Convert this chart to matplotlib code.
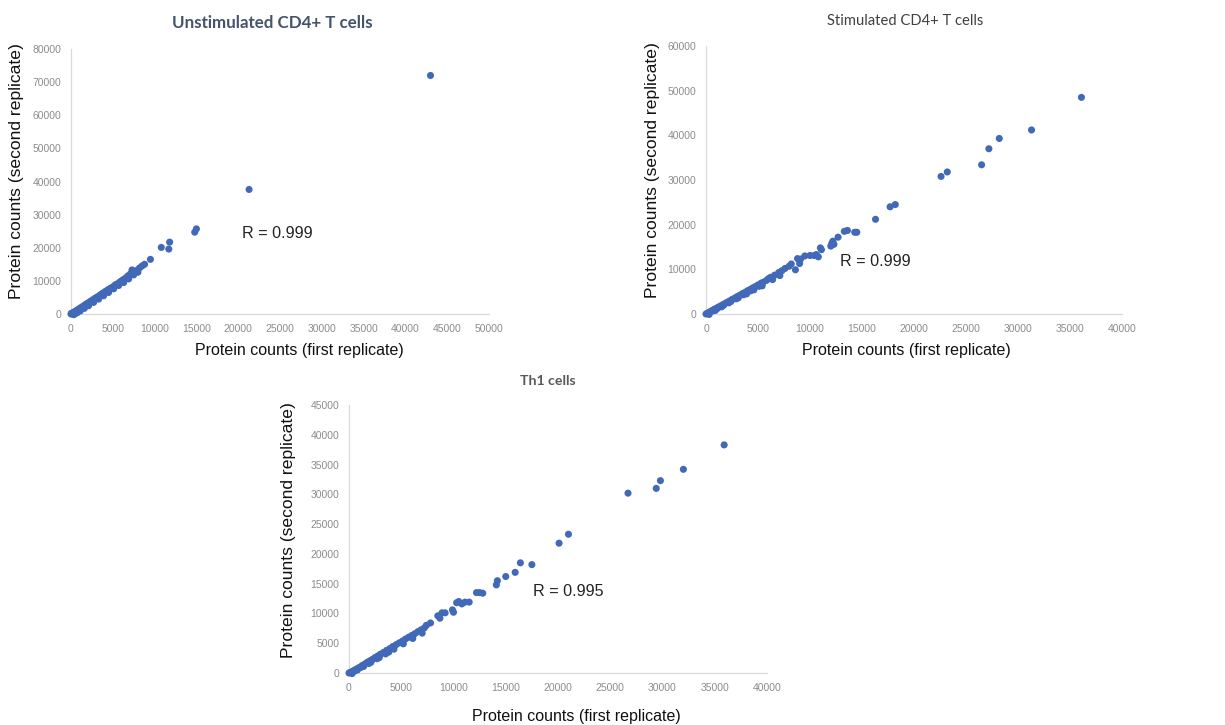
import matplotlib
matplotlib.use("Agg")
import matplotlib.pyplot as plt

plt.rcParams['font.family'] = ['Liberation Sans', 'DejaVu Sans']

# --- Unstimulated CD4+ T cells -------------------------------------------
unstim_x = [0, 50, 150, 300, 100, 250, 400, 600, 800, 1000, 1250, 1500, 1750,
            2000, 2300, 2600, 2900, 3200, 3500, 3800, 4100, 4400, 4700, 5000,
            5300, 5600, 5900, 6200, 6500, 6800, 7100, 7300, 7600, 7900, 8200,
            8500, 8800, 9500, 10800, 11700, 11800, 14800, 15000, 21300, 43000,
            350, 700, 1100, 1600, 2100, 2700, 3300, 3900, 4500, 5100, 5700,
            6300, 6900, 7500, 8000]
unstim_y = [0, 200, 50, 300, 150, 400, 650, 950, 1300, 1650, 2050, 2450, 2900,
            3300, 3800, 4300, 4800, 5250, 5800, 6300, 6800, 7300, 7750, 8200,
            8800, 9200, 9800, 10300, 10800, 11500, 12100, 13300, 12800, 13200,
            13900, 14500, 15000, 16500, 20100, 19600, 21700, 24700, 25700,
            37600, 72000,
            -200, 300, 900, 1700, 2500, 3500, 4500, 5500, 6500, 7600, 8600,
            9500, 10600, 11800, 12600]

# --- Stimulated CD4+ T cells ---------------------------------------------
stim_x = [0, 80, 200, 350, 500, 650, 800, 1000, 1200, 1400, 1600, 1800, 2000,
          2250, 2500, 2750, 3000, 3250, 3500, 3750, 4000, 4250, 4500, 4750,
          5000, 5300, 5500, 5800, 6000, 6200, 6600, 7000, 7300, 7600, 8000,
          8200, 8600, 8800, 9000, 9100, 9500, 10000, 10400, 10600, 10800,
          11000, 11100, 12000, 12100, 12200, 12300, 12700, 13300, 13600, 14300,
          14500, 16300, 17700, 18200, 22600, 23200, 26500, 27200, 28200, 31300,
          36100,
          600, 1100, 1700, 2400, 3100, 3900, 4600, 5400, 6400, 7100,
          300, 900, 1500, 2200, 2900, 3600, 4300, 5100]
stim_y = [0, 100, 250, 450, 650, 850, 1050, 1300, 1550, 1800, 2050, 2300, 2600,
          2900, 3250, 3550, 3900, 4200, 4550, 4850, 5200, 5500, 5850, 6150,
          6500, 6900, 7100, 7500, 7900, 8200, 8700, 9300, 9700, 10200, 10700,
          11200, 9900, 12400, 11300, 12300, 13000, 13100, 13100, 13300, 12800,
          14800, 14400, 15200, 15800, 16300, 15600, 17200, 18500, 18700, 18300,
          18300, 21200, 24000, 24500, 30800, 31800, 33400, 37000, 39300, 41200,
          48500,
          650, 1250, 1950, 2800, 3600, 4500, 5400, 6300, 7700, 8600,
          -100, 800, 1600, 2500, 3400, 4300, 5200, 6200]

# --- Th1 cells -------------------------------------------------------------
th1_x = [0, 100, 250, 400, 600, 800, 1000, 1250, 1500, 1750, 2000, 2250, 2500,
         2750, 3000, 3300, 3600, 3900, 4200, 4500, 4800, 5100, 5400, 5700,
         6000, 6300, 6600, 6900, 7200, 7400, 7800, 8500, 8700, 8900, 9200,
         9900, 10000, 10300, 10500, 10800, 11100, 11500, 12200, 12500, 12800,
         14100, 14200, 15000, 15900, 16400, 17500, 20100, 21000, 26700, 29400,
         29800, 32000, 35900,
         500, 1100, 1900, 2700, 3500, 4300, 5200, 6100, 7000,
         300, 800, 1400, 2100, 2900, 3800]
th1_y = [0, 80, 200, 350, 550, 750, 950, 1250, 1500, 1800, 2050, 2300, 2600,
         2850, 3150, 3450, 3800, 4100, 4450, 4750, 5050, 5350, 5700, 6000,
         6300, 6600, 6950, 7250, 7550, 8000, 8400, 9600, 9200, 10100, 10100,
         10600, 10200, 11800, 12000, 11600, 11900, 11900, 13500, 13500, 13400,
         14800, 15500, 16200, 16900, 18500, 18200, 21800, 23300, 30200, 31000,
         32300, 34200, 38300,
         300, 900, 1600, 2400, 3200, 4000, 4900, 5800, 6700,
         -100, 500, 1100, 1800, 2600, 3500]

panel_titles = ["Unstimulated CD4+ T cells", "Stimulated CD4+ T cells", "Th1 cells"]
r_labels = ["R = 0.999", "R = 0.999", "R = 0.995"]
x_limits = [50000, 40000, 40000]
y_limits = [80000, 60000, 45000]
x_steps = [5000, 5000, 5000]
y_steps = [10000, 10000, 5000]
x_label = "Protein counts (first replicate)"
y_label = "Protein counts (second replicate)"

W, H = 1225, 725
fig = plt.figure(figsize=(W / 100, H / 100), dpi=100)
fig.patch.set_facecolor("white")


def fx(px):
    return px / W


def fy(py):
    return 1 - py / H


# axes boxes in pixels: left, top, right, bottom
boxes = [(71, 49, 489, 314), (706, 46, 1122, 314), (349, 405, 767, 673)]
title_pos = [(272, 23), (905, 21), (548, 381)]
title_style = [dict(fontsize=12.2, fontweight="bold", color="#44546A", family=["Lato", "DejaVu Sans"]),
               dict(fontsize=10.6, color="#404040", family=["Lato", "DejaVu Sans"]),
               dict(fontsize=10.2, fontweight="bold", color="#595959", family=["Lato", "DejaVu Sans"])]
xlabel_pos = [(299, 351), (906, 351), (576, 716)]
ylabel_pos = [(17, 171), (652, 170), (288, 530)]
r_pos = [(242, 233), (840, 262), (533, 592)]

datasets = [(unstim_x, unstim_y), (stim_x, stim_y), (th1_x, th1_y)]

for i, (xs, ys) in enumerate(datasets):
    l, t, r, b = boxes[i]
    ax = fig.add_axes([fx(l), fy(b), fx(r) - fx(l), fy(t) - fy(b)])
    ax.scatter(xs, ys, s=26, color="#4169B8", edgecolors="none", zorder=3,
               clip_on=False)
    ax.set_xlim(0, x_limits[i])
    ax.set_ylim(0, y_limits[i])
    ax.set_xticks(range(0, x_limits[i] + 1, x_steps[i]))
    ax.set_yticks(range(0, y_limits[i] + 1, y_steps[i]))
    ax.tick_params(length=0, labelsize=7.5, labelcolor="#8C8C8C", pad=7)
    for side in ("top", "right"):
        ax.spines[side].set_visible(False)
    for side in ("left", "bottom"):
        ax.spines[side].set_color("#D9D9D9")
        ax.spines[side].set_linewidth(0.9)

    fig.text(fx(title_pos[i][0]), fy(title_pos[i][1]), panel_titles[i],
             ha="center", va="center", **title_style[i])
    fig.text(fx(xlabel_pos[i][0]), fy(xlabel_pos[i][1]), x_label,
             ha="center", va="center", fontsize=11.5, color="#111111")
    fig.text(fx(ylabel_pos[i][0]), fy(ylabel_pos[i][1]), y_label,
             ha="center", va="center", rotation=90, fontsize=12.6,
             color="#111111")
    fig.text(fx(r_pos[i][0]), fy(r_pos[i][1]), r_labels[i],
             ha="left", va="center", fontsize=11.6, color="#222222")

fig.savefig("out.png", dpi=100, facecolor="white")
